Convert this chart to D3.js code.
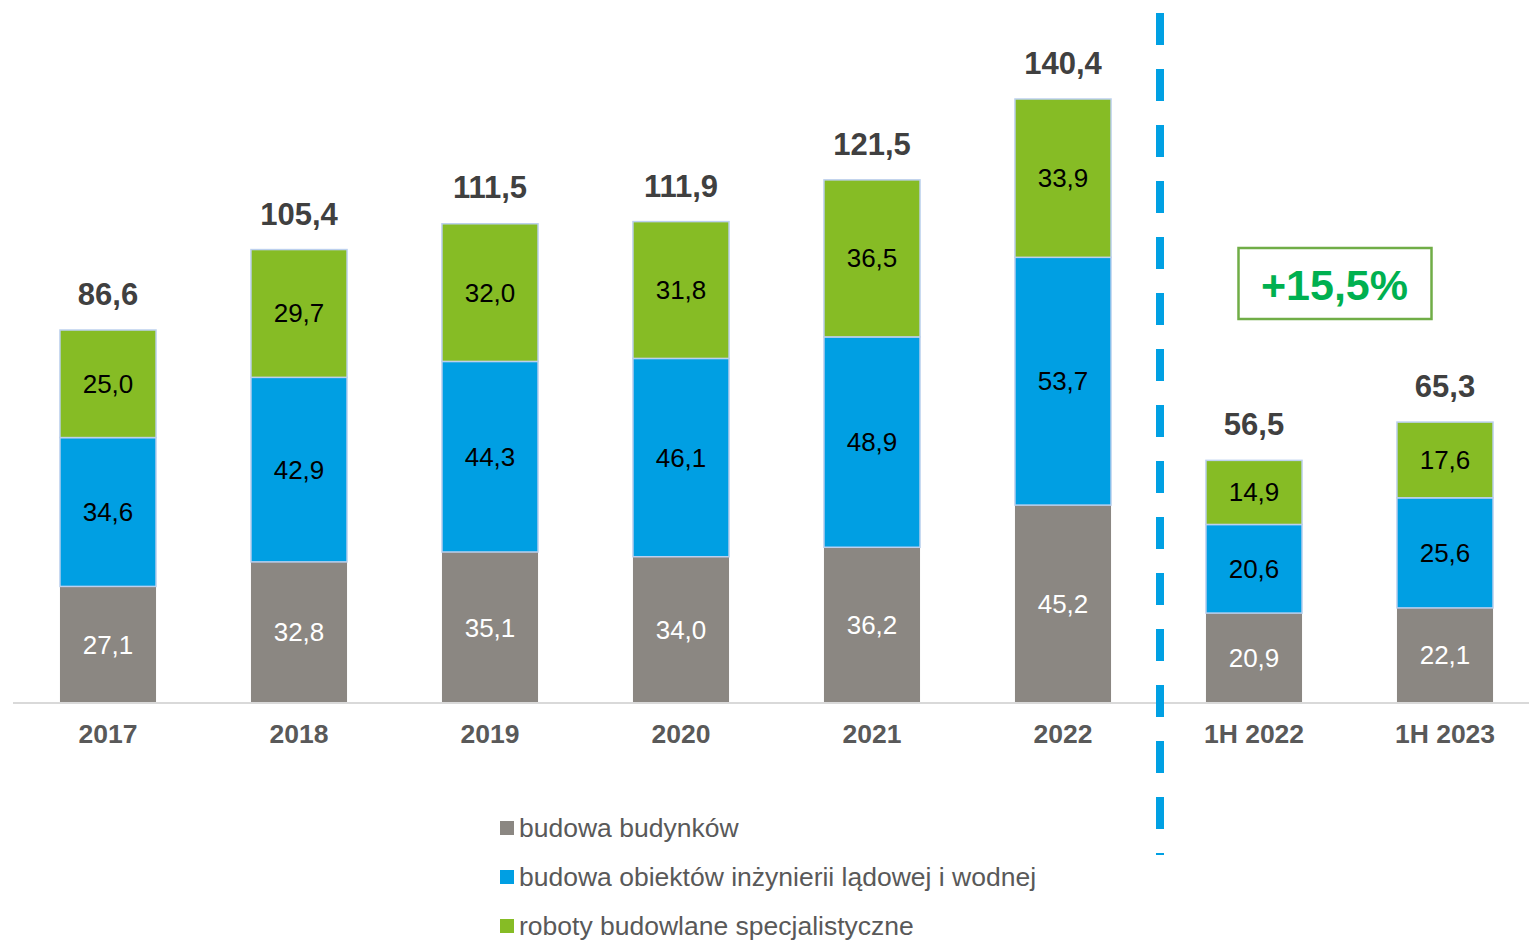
<!DOCTYPE html>
<html>
<head>
<meta charset="utf-8">
<script src="https://cdn.jsdelivr.net/npm/d3@7"></script>
<style>
  body { margin: 0; background: #fff; }
  svg { display: block; font-family: "Liberation Sans", Arial, sans-serif; }
</style>
</head>
<body>
<div id="chart"></div>
<script>
// data
const categories = ['2017', '2018', '2019', '2020', '2021', '2022', '1H 2022', '1H 2023'];
// segment heights as drawn (2022 bar is drawn to its total of 140,4)
const budynki = [27.1, 32.8, 35.1, 34.0, 36.2, 46.0, 20.9, 22.1];
const inzynieria = [34.6, 42.9, 44.3, 46.1, 48.9, 57.6, 20.6, 25.6];
const specjalistyczne = [25.0, 29.7, 32.0, 31.8, 36.5, 36.8, 14.9, 17.6];
// labels printed on the segments
const budynkiLabels = ['27,1', '32,8', '35,1', '34,0', '36,2', '45,2', '20,9', '22,1'];
const inzynieriaLabels = ['34,6', '42,9', '44,3', '46,1', '48,9', '53,7', '20,6', '25,6'];
const specjalistyczneLabels = ['25,0', '29,7', '32,0', '31,8', '36,5', '33,9', '14,9', '17,6'];
const totals = [86.6, 105.4, 111.5, 111.9, 121.5, 140.4, 56.5, 65.3];
const seriesNames = ['budowa budynków', 'budowa obiektów inżynierii lądowej i wodnej', 'roboty budowlane specjalistyczne'];
const seriesColors = ['#8b8782', '#009fe3', '#86bc25'];
const labelColors = ['#ffffff', '#000000', '#000000'];
const growthLabel = '+15,5%';

const width = 1529, height = 940;
const baseY = 703, topY = 99;

const svg = d3.select('#chart').append('svg').attr('width', width).attr('height', height);

const x = d3.scaleBand().domain(categories).range([12.5, 1540.5]).paddingInner(0.497).paddingOuter(0.2485);
const y = d3.scaleLinear().domain([0, d3.max(totals)]).range([baseY, topY]);

const rows = categories.map((c, i) => ({ cat: c, idx: i, b: budynki[i], i: inzynieria[i], s: specjalistyczne[i] }));
const stacked = d3.stack().keys(['b', 'i', 's'])(rows);
const labelSets = [budynkiLabels, inzynieriaLabels, specjalistyczneLabels];

const fmt = v => v.toFixed(1).replace('.', ',');

// bars
const layers = svg.append('g').selectAll('g').data(stacked).enter().append('g');
layers.selectAll('rect').data((d, k) => d.map(p => ({ p, k }))).enter().append('rect')
  .attr('x', d => x(d.p.data.cat))
  .attr('width', x.bandwidth())
  .attr('y', d => y(d.p[1]))
  .attr('height', d => y(d.p[0]) - y(d.p[1]))
  .attr('fill', d => seriesColors[d.k])
  .attr('stroke', d => d.k === 0 ? 'none' : '#bcd0ee')
  .attr('stroke-width', 1.5);

// segment labels
layers.selectAll('text').data((d, k) => d.map(p => ({ p, k }))).enter().append('text')
  .attr('x', d => x(d.p.data.cat) + x.bandwidth() / 2)
  .attr('y', d => (y(d.p[0]) + y(d.p[1])) / 2 + 9)
  .attr('text-anchor', 'middle')
  .attr('font-size', 26)
  .attr('fill', d => labelColors[d.k])
  .text(d => labelSets[d.k][d.p.data.idx]);

// totals
svg.append('g').selectAll('text').data(totals).enter().append('text')
  .attr('x', (d, i) => x(categories[i]) + x.bandwidth() / 2)
  .attr('y', d => y(d) - 25)
  .attr('text-anchor', 'middle')
  .attr('font-size', 31)
  .attr('font-weight', 'bold')
  .attr('fill', '#404040')
  .text(d => fmt(d));

// baseline axis
const axis = svg.append('g').attr('transform', `translate(0,${baseY})`)
  .call(d3.axisBottom(x).tickSize(0).tickPadding(0));
axis.select('.domain').attr('d', `M13,0H${width}`).attr('stroke', '#d9d9d9').attr('stroke-width', 2);
axis.selectAll('text')
  .attr('dy', 0).attr('y', 40)
  .attr('font-size', 26.5).attr('font-weight', 'bold')
  .attr('font-family', '"Liberation Sans", Arial, sans-serif')
  .attr('fill', '#595959');

// dashed separator
const sepX = (x('2022') + x.bandwidth() + x('1H 2022')) / 2 + 1.5;
svg.append('line')
  .attr('x1', sepX).attr('x2', sepX).attr('y1', 13).attr('y2', 855)
  .attr('stroke', '#00a0e3').attr('stroke-width', 8)
  .attr('stroke-dasharray', '32 24');

// growth box
const boxCx = (x('1H 2022') + x('1H 2023') + x.bandwidth()) / 2 - 15;
svg.append('rect')
  .attr('x', boxCx - 96).attr('y', 248).attr('width', 193).attr('height', 71)
  .attr('fill', '#fff').attr('stroke', '#70ad47').attr('stroke-width', 2.5);
svg.append('text')
  .attr('x', boxCx).attr('y', 300)
  .attr('text-anchor', 'middle')
  .attr('font-size', 43).attr('font-weight', 'bold')
  .attr('fill', '#00b050')
  .text(growthLabel);

// legend
const legend = svg.append('g').selectAll('g').data(seriesNames).enter().append('g')
  .attr('transform', (d, i) => `translate(500,${828 + i * 49})`);
legend.append('rect').attr('x', 0).attr('y', -7).attr('width', 14).attr('height', 14)
  .attr('fill', (d, i) => seriesColors[i]);
legend.append('text').attr('x', 19).attr('y', 9)
  .attr('font-size', 26.5).attr('fill', '#595959')
  .text(d => d);
</script>
</body>
</html>
